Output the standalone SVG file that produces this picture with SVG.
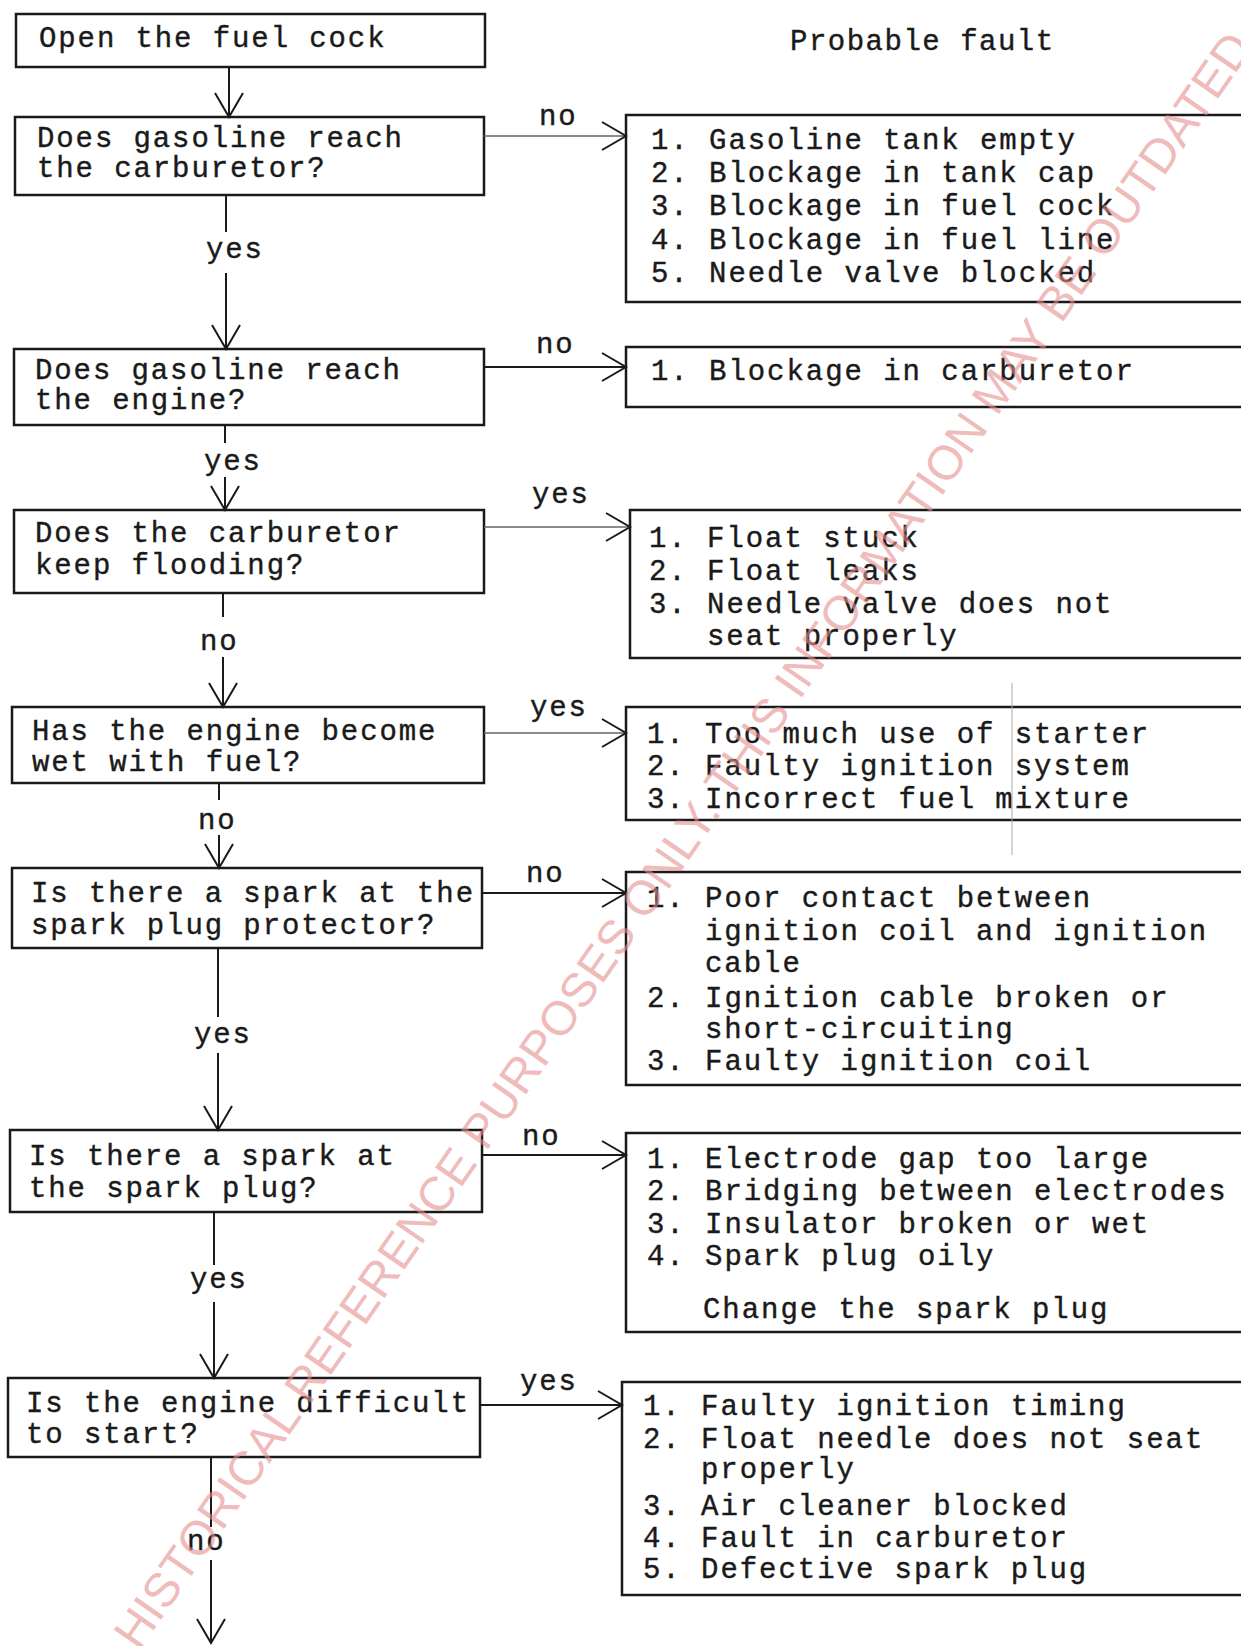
<svg xmlns="http://www.w3.org/2000/svg" width="1241" height="1646" viewBox="0 0 1241 1646">
<defs>
<marker id="arr" viewBox="-26 -16 28 32" markerWidth="28" markerHeight="32" refX="0" refY="0" orient="auto" markerUnits="userSpaceOnUse">
<path d="M-24,-14 L0,0 L-24,14" fill="none" stroke="#1a1a1a" stroke-width="2"/>
</marker>
<style>
.box{fill:none;stroke:#1a1a1a;stroke-width:2.5}
.t{font-family:"Liberation Mono","DejaVu Sans Mono",monospace;font-size:29px;fill:#1a1a1a;stroke:#1a1a1a;stroke-width:0.4}
.l{letter-spacing:1.9px}
.r{letter-spacing:1.95px}
.c{fill:none;stroke:#1a1a1a;stroke-width:2}
.g{stroke:#666;stroke-width:1.6}
.wm{font-family:"Liberation Sans",Arial,sans-serif;font-size:48px;fill:#e58e8e;fill-opacity:0.6}
</style>
</defs>
<rect width="1241" height="1646" fill="#ffffff"/>

<text class="t" x="790" y="50" style="letter-spacing:1.5px">Probable fault</text>

<g id="n-open">
<rect class="box" x="16" y="14" width="469" height="53"/>
<text class="t l" x="39" y="47">Open the fuel cock</text>
</g>
<g id="q-carb">
<rect class="box" x="15" y="117" width="469" height="78"/>
<text class="t l" x="37" y="147">Does gasoline reach</text>
<text class="t l" x="37" y="177">the carburetor?</text>
</g>
<g id="q-engine">
<rect class="box" x="14" y="349" width="470" height="76"/>
<text class="t l" x="35" y="379">Does gasoline reach</text>
<text class="t l" x="35" y="409">the engine?</text>
</g>
<g id="q-flood">
<rect class="box" x="14" y="510" width="470" height="83"/>
<text class="t l" x="35" y="542">Does the carburetor</text>
<text class="t l" x="35" y="574">keep flooding?</text>
</g>
<g id="q-wet">
<rect class="box" x="12" y="707" width="472" height="76"/>
<text class="t l" x="32" y="740">Has the engine become</text>
<text class="t l" x="32" y="771">wet with fuel?</text>
</g>
<g id="q-spark1">
<rect class="box" x="12" y="868" width="470" height="80"/>
<text class="t l" x="31" y="902">Is there a spark at the</text>
<text class="t l" x="31" y="934">spark plug protector?</text>
</g>
<g id="q-spark2">
<rect class="box" x="10" y="1130" width="472" height="82"/>
<text class="t l" x="29" y="1165">Is there a spark at</text>
<text class="t l" x="29" y="1197">the spark plug?</text>
</g>
<g id="q-start">
<rect class="box" x="8" y="1378" width="472" height="79"/>
<text class="t l" x="26" y="1412">Is the engine difficult</text>
<text class="t l" x="26" y="1443">to start?</text>
</g>

<g id="f-carb">
<rect class="box" x="626" y="115" width="640" height="187"/>
<text class="t r" x="651" y="149">1. Gasoline tank empty</text>
<text class="t r" x="651" y="182">2. Blockage in tank cap</text>
<text class="t r" x="651" y="215">3. Blockage in fuel cock</text>
<text class="t r" x="651" y="249">4. Blockage in fuel line</text>
<text class="t r" x="651" y="282">5. Needle valve blocked</text>
</g>
<g id="f-engine">
<rect class="box" x="626" y="347" width="640" height="60"/>
<text class="t r" x="651" y="380">1. Blockage in carburetor</text>
</g>
<g id="f-flood">
<rect class="box" x="630" y="510" width="640" height="148"/>
<text class="t r" x="649" y="547">1. Float stuck</text>
<text class="t r" x="649" y="580">2. Float leaks</text>
<text class="t r" x="649" y="613">3. Needle valve does not</text>
<text class="t r" x="707" y="645">seat properly</text>
</g>
<g id="f-wet">
<rect class="box" x="626" y="707" width="640" height="113"/>
<text class="t r" x="647" y="743">1. Too much use of starter</text>
<text class="t r" x="647" y="775">2. Faulty ignition system</text>
<text class="t r" x="647" y="808">3. Incorrect fuel mixture</text>
<line x1="1012" y1="683" x2="1012" y2="855" stroke="#aaa" stroke-width="1"/>
</g>
<g id="f-spark1">
<rect class="box" x="626" y="872" width="640" height="213"/>
<text class="t r" x="647" y="907">1. Poor contact between</text>
<text class="t r" x="705" y="940">ignition coil and ignition</text>
<text class="t r" x="705" y="972">cable</text>
<text class="t r" x="647" y="1007">2. Ignition cable broken or</text>
<text class="t r" x="705" y="1038">short-circuiting</text>
<text class="t r" x="647" y="1070">3. Faulty ignition coil</text>
</g>
<g id="f-spark2">
<rect class="box" x="626" y="1133" width="640" height="199"/>
<text class="t r" x="647" y="1168">1. Electrode gap too large</text>
<text class="t r" x="647" y="1200">2. Bridging between electrodes</text>
<text class="t r" x="647" y="1233">3. Insulator broken or wet</text>
<text class="t r" x="647" y="1265">4. Spark plug oily</text>
<text class="t r" x="703" y="1318">Change the spark plug</text>
</g>
<g id="f-start">
<rect class="box" x="622" y="1382" width="640" height="213"/>
<text class="t r" x="643" y="1415">1. Faulty ignition timing</text>
<text class="t r" x="643" y="1448">2. Float needle does not seat</text>
<text class="t r" x="701" y="1478">properly</text>
<text class="t r" x="643" y="1515">3. Air cleaner blocked</text>
<text class="t r" x="643" y="1547">4. Fault in carburetor</text>
<text class="t r" x="643" y="1578">5. Defective spark plug</text>
</g>

<g id="connectors">
<line class="c" x1="229" y1="67" x2="229" y2="117" marker-end="url(#arr)"/>
<line class="c" x1="226" y1="195" x2="226" y2="232"/>
<line class="c" x1="226" y1="273" x2="226" y2="349" marker-end="url(#arr)"/>
<text class="t l" x="206" y="258">yes</text>
<line class="c" x1="225" y1="425" x2="225" y2="443"/>
<line class="c" x1="225" y1="477" x2="225" y2="510" marker-end="url(#arr)"/>
<text class="t l" x="204" y="470">yes</text>
<line class="c" x1="223" y1="593" x2="223" y2="617"/>
<line class="c" x1="223" y1="657" x2="223" y2="707" marker-end="url(#arr)"/>
<text class="t l" x="200" y="650">no</text>
<line class="c" x1="219" y1="783" x2="219" y2="800"/>
<line class="c" x1="219" y1="835" x2="219" y2="868" marker-end="url(#arr)"/>
<text class="t l" x="198" y="829">no</text>
<line class="c" x1="218" y1="948" x2="218" y2="1017"/>
<line class="c" x1="218" y1="1053" x2="218" y2="1130" marker-end="url(#arr)"/>
<text class="t l" x="194" y="1043">yes</text>
<line class="c" x1="214" y1="1212" x2="214" y2="1265"/>
<line class="c" x1="214" y1="1302" x2="214" y2="1378" marker-end="url(#arr)"/>
<text class="t l" x="190" y="1288">yes</text>
<line class="c" x1="211" y1="1457" x2="211" y2="1527"/>
<line class="c" x1="211" y1="1560" x2="211" y2="1643" marker-end="url(#arr)"/>
<text class="t l" x="187" y="1550">no</text>

<line class="c g" x1="484" y1="136" x2="626" y2="136" marker-end="url(#arr)"/>
<text class="t l" x="539" y="125">no</text>
<line class="c" x1="484" y1="367" x2="626" y2="367" marker-end="url(#arr)"/>
<text class="t l" x="536" y="353">no</text>
<line class="c g" x1="484" y1="527" x2="630" y2="527" marker-end="url(#arr)"/>
<text class="t l" x="532" y="503">yes</text>
<line class="c g" x1="484" y1="733" x2="626" y2="733" marker-end="url(#arr)"/>
<text class="t l" x="530" y="716">yes</text>
<line class="c" x1="482" y1="893" x2="626" y2="893" marker-end="url(#arr)"/>
<text class="t l" x="526" y="882">no</text>
<line class="c" x1="482" y1="1155" x2="626" y2="1155" marker-end="url(#arr)"/>
<text class="t l" x="522" y="1145">no</text>
<line class="c" x1="480" y1="1405" x2="622" y2="1405" marker-end="url(#arr)"/>
<text class="t l" x="520" y="1390">yes</text>
</g>

<text class="wm" transform="translate(73.4,1745.8) rotate(-55.2)">FOR HISTORICAL REFERENCE PURPOSES ONLY. THIS INFORMATION MAY BE OUTDATED</text>
</svg>
